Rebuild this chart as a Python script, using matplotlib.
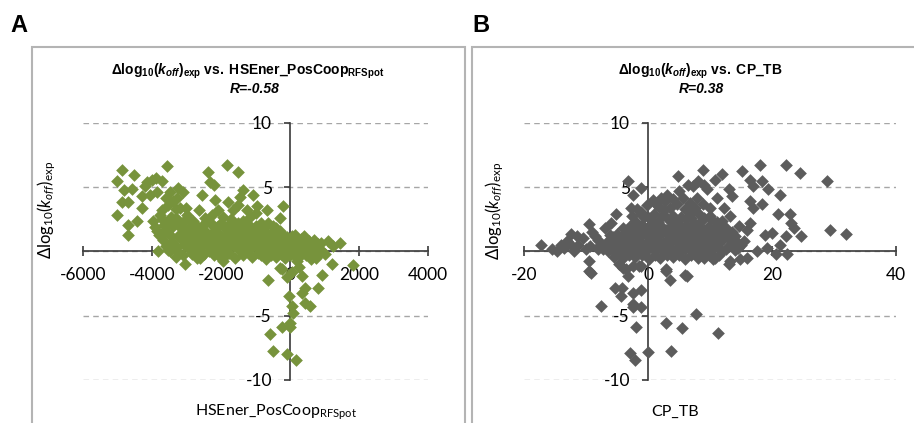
import matplotlib
matplotlib.use("Agg")
import matplotlib.pyplot as plt
from matplotlib.patches import Rectangle
import numpy as np

plt.rcParams['font.family'] = ['Lato', 'DejaVu Sans']
plt.rcParams['axes.unicode_minus'] = False
plt.rcParams['mathtext.fontset'] = 'custom'
plt.rcParams['mathtext.rm'] = 'Lato'
plt.rcParams['mathtext.it'] = 'Lato:italic'
plt.rcParams['mathtext.bf'] = 'Liberation Sans:bold'
plt.rcParams['mathtext.bfit'] = 'Liberation Sans:bold:italic'

W, H = 914, 423

# Panel A: HSEner_PosCoop_RFSpot vs dlog10(koff)
hsener_pts = np.array([
    (-4879, 6.34), (-5005, 5.49), (-4522, 5.95), (-4812, 4.79), (-4590, 4.87),
    (-4879, 3.89), (-4686, 3.89), (-5024, 2.81), (-4686, 2.04), (-4686, 1.26),
    (-4425, 2.35), (-4300, 3.38), (-4155, 5.44), (-3884, 5.70), (-3720, 5.49),
    (-3556, 6.65), (-4058, 4.41), (-3865, 4.66), (-3478, 4.66), (-3237, 4.92),
    (-3527, 3.63), (-3285, 4.15), (-3188, 3.38), (-3768, 2.86), (-3961, 2.35),
    (-2995, 2.86), (-2802, 2.35), (-2367, 6.21), (-2319, 5.44), (-2203, 5.18),
    (-2560, 4.41), (-2174, 4.02), (-1836, 6.73), (-1517, 6.16), (-1372, 4.79),
    (-1449, 4.28), (-1063, 4.41), (-1787, 3.89), (-1643, 3.25), (-1256, 3.25),
    (-966, 3.51), (-676, 3.25), (-193, 3.51), (-290, 2.60), (-628, 2.22),
    (-2271, 2.86), (-2077, 3.25), (1449, 0.67), (1836, -1.08), (-3043, -1.0),
    (-3816, 0.03), (-2609, -0.49), (-1932, -0.75),
    (-4300, 4.3), (-4200, 5.1), (-4000, 5.6), (-3600, 4.2), (-3400, 3.9),
    (-3300, 3.3), (-3100, 4.6), (-3000, 3.4), (-3700, 3.2), (-3450, 2.7),
    (-3250, 2.4), (-2650, 3.2), (-2450, 2.6), (-1950, 2.7), (-1700, 2.5),
    (-1500, 3.6), (-1150, 2.7), (-850, 2.2), (-1000, 3.0), (-1350, 2.4), (-500, 2.0),
    (-628, -2.18), (-241, -1.40), (338, -1.92), (918, -1.79), (1208, -1.01),
    (435, -2.83), (338, -3.22), (821, -2.83), (-19, -3.48), (48, -4.25),
    (435, -4.0), (580, -4.25), (97, -4.77), (0, -5.55), (0, -5.89),
    (-241, -5.89), (-580, -6.41), (-483, -7.76), (-97, -7.96), (174, -8.48),
    (-290, -1.27), (193, -0.75), (600, -0.6), (50, -1.6), (-100, -2.0), (250, -1.2),
    (-3700, 2.5), (-3520, 2.2), (-3310, 2.6), (-3090, 2.3), (-2880, 2.0),
    (-2420, 2.4), (-2010, 2.2), (-1620, 2.0), (-1190, 2.1), (-920, 1.9),
    (-3900, 1.9), (-3610, 1.7), (-3380, 2.0), (-3170, 1.8), (-2950, 1.6),
    (-2690, 1.9), (-2480, 1.7), (-2230, 2.0), (-1880, 1.8), (-1710, 1.6),
    (-1420, 1.8), (-1080, 1.6), (-790, 1.7), (-510, 1.5), (-280, 1.6),
    (-3790, 1.3), (-3560, 1.5), (-3240, 1.2), (-2990, 1.4), (-2760, 1.2),
    (-2540, 1.5), (-2310, 1.3), (-2060, 1.4), (-1840, 1.2), (-1590, 1.5),
    (-1360, 1.3), (-1140, 1.4), (-960, 1.2), (-690, 1.3), (-440, 1.1),
    (-210, 1.3), (60, 1.2),
    (-3680, 0.9), (-3440, 0.7), (-3160, 1.0), (-2890, 0.8), (-2660, 1.0),
    (-2390, 0.7), (-2160, 0.9), (-1940, 0.8), (-1710, 1.0), (-1490, 0.8),
    (-1260, 0.9), (-1010, 0.7), (-810, 1.0), (-590, 0.8), (-360, 0.9),
    (-140, 0.7), (110, 0.9), (310, 1.0), (560, 0.8),
    (-3590, 0.4), (-3290, 0.3), (-3060, 0.5), (-2790, 0.2), (-2560, 0.4),
    (-2290, 0.3), (-2110, 0.5), (-1860, 0.3), (-1610, 0.4), (-1390, 0.2),
    (-1160, 0.5), (-890, 0.3), (-710, 0.4), (-490, 0.5), (-260, 0.3),
    (-40, 0.4), (160, 0.5), (360, 0.3), (610, 0.4), (810, 0.6),
    (-3490, 0.0), (-3210, -0.1), (-2910, 0.1), (-2640, -0.1), (-2360, 0.0),
    (-2040, 0.1), (-1760, -0.1), (-1440, 0.0), (-1210, 0.1), (-940, -0.1),
    (-760, 0.0), (-540, 0.1), (-310, -0.1), (-90, 0.0), (90, 0.1),
    (290, -0.1), (510, 0.0), (690, 0.2), (910, 0.1),
    (-3300, -0.4), (-2700, -0.5), (-2200, -0.3), (-1600, -0.5), (-1100, -0.4),
    (-700, -0.6), (-400, -0.4), (-150, -0.5), (200, -0.4), (450, -0.3),
    (750, -0.5), (1000, -0.2),
    (-600, 0.6), (-400, 0.2), (-200, 0.8), (0, 0.3), (200, 0.2), (400, 0.7),
    (100, -0.2), (-50, 1.0), (700, 0.9), (1100, 0.8), (1250, 0.4),
    (-3650, 2.1), (-3420, 2.4), (-3190, 2.1), (-2960, 2.5), (-2780, 2.2),
    (-2560, 2.0), (-2320, 2.3), (-2110, 1.9), (-1800, 2.1), (-1520, 2.2),
    (-1300, 1.9), (-1000, 2.0), (-700, 2.0), (-400, 1.8),
    (-3860, 1.6), (-3460, 1.2), (-3080, 1.7), (-2850, 1.5), (-2620, 1.6),
    (-2410, 1.1), (-2180, 1.6), (-1960, 1.1), (-1740, 1.3), (-1500, 1.1),
    (-1260, 1.6), (-1040, 1.1), (-860, 1.5), (-600, 1.1), (-340, 1.4),
    (-80, 1.1), (150, 1.3), (400, 1.2),
    (-3530, 0.1), (-3370, 0.6), (-2980, 0.6), (-2720, 0.6), (-2480, 0.8),
    (-2230, 0.6), (-1990, 0.5), (-1780, 0.6), (-1550, 0.7), (-1320, 0.6),
    (-1070, 0.4), (-830, 0.6), (-630, 0.3), (-420, 0.6), (-190, 0.5),
    (40, 0.7), (260, 0.6), (480, 0.5), (700, 0.5), (900, 0.7),
    (-3100, -0.3), (-2830, -0.2), (-2500, -0.2), (-2100, -0.3), (-1850, -0.3),
    (-1350, -0.3), (-850, -0.3), (-550, -0.3), (-250, -0.2), (0, -0.3),
    (350, -0.2), (600, -0.3), (850, -0.2),
])

# Panel B: CP_TB vs dlog10(koff)
cptb_pts = np.array([
    (-17.3, 0.49), (-14.6, 0.03), (-12.5, 1.40), (-9.56, 2.15), (-11.3, 0.54),
    (-10.5, 1.06), (-9.4, 0.41), (-7.8, 0.54), (-9.45, -0.75), (-9.45, -1.53),
    (-5.1, 2.93), (-3.24, 5.52), (-2.43, 4.43), (-1.07, 4.95), (-2.7, 3.40),
    (-6.2, 1.32), (-7.3, 0.16), (-4.6, -1.01), (-3.5, -1.40), (-1.46, -1.14),
    (-1.07, 2.88), (-0.8, 1.97), (4.86, 5.86), (2.98, -1.40), (5.95, -1.79),
    (2.17, 4.18), (1.36, 3.66), (4.05, 4.05), (7.3, 5.08),
    (-13.5, 0.3), (-12.0, 0.0), (-8.5, 1.2), (-8.0, 0.2), (-6.5, 0.6),
    (-13.0, 0.8), (-11.5, 1.2), (-10.0, 0.2), (-9.0, 1.5), (-8.0, 0.9),
    (-7.0, 1.8), (-6.0, 2.2), (-12.5, 0.5), (-15.5, 0.2), (-14.0, 0.5),
    (8.9, 6.38), (11.9, 6.07), (15.1, 6.25), (18.1, 6.72), (22.2, 6.77),
    (24.5, 6.12), (28.8, 5.52), (29.4, 1.71), (32.0, 1.40), (10.8, 5.6),
    (16.5, 5.6), (18.4, 5.47), (17.0, 5.08), (19.3, 4.88), (21.3, 4.43),
    (13.0, 4.9), (9.46, 4.83), (7.84, 4.18), (11.1, 4.18), (13.5, 4.30),
    (16.5, 3.92), (18.4, 3.66), (17.0, 3.40), (20.9, 2.88), (22.9, 2.88),
    (23.0, 2.23), (23.5, 1.84), (24.6, 1.19), (22.2, 1.19), (20.0, 1.45),
    (18.9, 1.32), (16.5, 2.23), (15.9, 1.71), (14.6, 1.97), (14.1, 1.19),
    (13.2, 2.75), (12.2, 3.40), (10.0, 3.40), (8.9, 3.66), (10.0, 2.75),
    (6.9, 3.0), (10.8, -0.49), (13.2, -0.75), (15.9, -0.49), (19.2, 0.29),
    (21.3, 0.54), (22.4, -0.23), (17.6, 0.03), (20.7, -0.23),
    (3.0, 4.4), (5.0, 4.7), (6.5, 5.2), (8.0, 5.5), (9.0, 5.2),
    (-9.2, -1.66), (-4.05, -1.27), (-3.24, -1.92), (-2.43, -1.14), (-1.07, -1.14),
    (-5.4, -2.83), (-4.15, -2.83), (-4.31, -3.48), (-2.43, -3.22), (-1.07, -2.96),
    (-7.55, -4.25), (-2.43, -4.07), (-2.5, -4.3), (-1.07, -4.30), (-1.88, -5.89),
    (2.87, -1.53), (3.52, -2.18), (6.22, -1.92), (2.98, -5.55), (5.41, -5.94),
    (7.68, -4.85), (11.3, -6.38), (-2.97, -7.89), (-2.16, -8.48), (0.0, -7.81),
    (3.79, -7.76), (10.5, -0.55), (13.0, -1.01), (14.9, -0.62),
    (-1.2, 3.1), (1.0, 2.9), (2.6, 3.2), (4.1, 2.8), (6.0, 3.3), (8.2, 2.9),
    (-2.1, 2.4), (0.2, 2.6), (1.6, 2.3), (3.1, 2.6), (4.6, 2.4), (6.1, 2.5),
    (7.4, 2.2), (9.1, 2.6), (11.2, 2.3),
    (-3.1, 1.9), (-1.0, 2.1), (0.6, 1.8), (2.1, 2.0), (3.6, 1.9), (5.1, 2.1),
    (6.4, 1.8), (8.1, 2.0), (9.6, 1.9), (11.1, 2.1), (12.6, 1.8),
    (-5.0, 1.4), (-3.4, 1.6), (-2.0, 1.5), (-0.4, 1.4), (1.1, 1.6), (2.4, 1.5),
    (4.1, 1.4), (5.6, 1.6), (6.9, 1.5), (8.6, 1.4), (10.1, 1.6), (11.6, 1.5), (13.1, 1.3),
    (-6.1, 0.9), (-4.4, 1.1), (-3.0, 1.0), (-1.6, 0.9), (0.1, 1.1), (1.4, 1.0),
    (3.1, 0.9), (4.4, 1.1), (6.1, 1.0), (7.6, 0.9), (9.1, 1.1), (10.4, 0.9),
    (12.1, 1.0), (14.0, 0.9),
    (-7.0, 0.5), (-5.6, 0.4), (-4.1, 0.6), (-2.4, 0.5), (-1.1, 0.4), (0.6, 0.6),
    (2.0, 0.5), (3.4, 0.4), (5.1, 0.6), (6.6, 0.5), (8.0, 0.4), (9.6, 0.6),
    (11.0, 0.5), (13.1, 0.4), (15.0, 0.5),
    (-6.4, 0.0), (-5.0, -0.1), (-3.6, 0.1), (-2.1, 0.0), (-0.6, -0.1), (1.0, 0.1),
    (2.6, 0.0), (4.1, -0.1), (5.4, 0.1), (7.1, 0.0), (8.4, -0.1), (10.1, 0.1),
    (12.0, 0.0), (14.1, 0.1),
    (-4.0, -0.5), (-2.1, -0.4), (0.1, -0.6), (2.0, -0.5), (4.1, -0.4), (6.0, -0.6),
    (8.1, -0.5), (9.9, -0.3),
    (-0.2, 3.6), (0.8, 4.0), (1.8, 3.5), (2.8, 3.9), (3.6, 3.4), (4.6, 3.7),
    (5.6, 4.2), (6.8, 3.8), (7.6, 3.4), (-1.8, 3.3),
    (-2.6, 2.8), (-0.6, 2.7), (0.9, 2.3), (2.3, 2.8), (3.8, 2.3), (5.3, 2.7),
    (6.9, 2.6), (8.6, 2.4), (10.2, 2.5), (12.0, 2.4),
    (-4.0, 1.8), (-2.6, 2.0), (-1.5, 1.7), (0.0, 1.9), (1.5, 2.1), (2.9, 1.7),
    (4.4, 1.8), (5.9, 1.9), (7.4, 1.7), (9.0, 1.7), (10.6, 1.8), (12.1, 1.9),
    (-5.7, 1.1), (-3.8, 1.3), (-2.6, 1.2), (-1.2, 1.2), (0.4, 1.3), (1.8, 1.3),
    (3.5, 1.2), (5.0, 1.3), (6.5, 1.2), (8.0, 1.2), (9.6, 1.3), (11.0, 1.2),
    (12.7, 1.1), (13.6, 1.5),
    (-6.5, 0.8), (-5.0, 0.7), (-3.5, 0.7), (-2.0, 0.8), (-0.4, 0.7), (0.9, 0.8),
    (2.4, 0.7), (3.8, 0.8), (5.5, 0.8), (7.0, 0.7), (8.5, 0.8), (10.0, 0.8),
    (11.5, 0.7), (13.5, 0.7), (15.5, 0.8),
    (-5.8, 0.2), (-4.4, 0.3), (-2.8, 0.2), (-1.5, 0.2), (0.2, 0.3), (1.6, 0.3),
    (3.0, 0.2), (4.6, 0.3), (6.0, 0.2), (7.5, 0.3), (9.0, 0.2), (10.6, 0.3),
    (12.5, 0.2), (14.5, 0.3),
    (-5.5, -0.4), (-3.0, -0.3), (-1.0, -0.3), (1.1, -0.3), (3.0, -0.3),
    (5.0, -0.3), (7.0, -0.3), (9.0, -0.5), (11.5, -0.3),
])

y_ticks = [-10, -5, 0, 5, 10]
a_xticks = [-6000, -4000, -2000, 0, 2000, 4000]
b_xticks = [-20, 0, 20, 40]

ylab = r'$\Delta\mathrm{log}_{10}(k_{off})_{\mathrm{exp}}$'


def fx(px):
    return px / W


def fy(py):
    return 1 - py / H


def draw_panel(fig, rect, pts, xticks, color):
    ax = fig.add_axes(rect)
    ax.scatter(pts[:, 0], pts[:, 1], marker='D', s=42, color=color,
               linewidths=0, clip_on=False, zorder=3)
    ax.set_xlim(xticks[0], xticks[-1])
    ax.set_ylim(-10, 10)
    ax.set_xticks(xticks)
    ax.set_yticks(y_ticks)
    for side in ['top', 'right']:
        ax.spines[side].set_visible(False)
    for side in ['left', 'bottom']:
        ax.spines[side].set_position('zero')
        ax.spines[side].set_color('#3a3a3a')
        ax.spines[side].set_linewidth(1.2)
        ax.spines[side].set_zorder(2)
    ax.tick_params(axis='x', direction='inout', length=7, width=1.2,
                   color='#3a3a3a', pad=8, labelsize=12.5)
    ax.tick_params(axis='y', direction='out', length=4, width=1.2,
                   color='#3a3a3a', pad=9, labelsize=12.5)
    ax.grid(axis='y', color='#a6a6a6', linestyle=(0, (4, 3)), linewidth=1.0)
    ax.set_axisbelow(True)
    ax.patch.set_visible(False)
    return ax


fig = plt.figure(figsize=(W / 100, H / 100), dpi=100)

# panel frames
fig.add_artist(Rectangle((fx(32), -0.1), fx(465 - 32), fy(47) + 0.1,
                         transform=fig.transFigure, fill=False,
                         edgecolor='#b4b4b4', linewidth=1.5))
fig.add_artist(Rectangle((fx(472), -0.1), 0.6, fy(47) + 0.1,
                         transform=fig.transFigure, fill=False,
                         edgecolor='#b4b4b4', linewidth=1.5))

ax_a = draw_panel(fig, [fx(83), fy(380), fx(428 - 83), (380 - 123) / H],
                  hsener_pts, a_xticks, '#77933c')
ax_b = draw_panel(fig, [fx(524), fy(380), fx(896 - 524), (380 - 123) / H],
                  cptb_pts, b_xticks, '#5c5c5c')

# panel letters
fig.text(fx(10), fy(25), 'A', fontsize=17, fontweight='bold',
         family='Liberation Sans', va='center', ha='left')
fig.text(fx(472), fy(25), 'B', fontsize=17, fontweight='bold',
         family='Liberation Sans', va='center', ha='left')

# titles
fig.text(fx(248), fy(71),
         r'$\mathbf{\Delta log_{10}(}\mathbfit{k}_{\mathbfit{off}}\mathbf{)_{exp}\ vs.\ HSEner\_PosCoop_{RFSpot}}$',
         fontsize=10, ha='center', va='center')
fig.text(fx(255), fy(89), 'R=-0.58', fontsize=10, fontweight='bold',
         fontstyle='italic', family='Liberation Sans', ha='center', va='center')
fig.text(fx(700), fy(71),
         r'$\mathbf{\Delta log_{10}(}\mathbfit{k}_{\mathbfit{off}}\mathbf{)_{exp}\ vs.\ CP\_TB}$',
         fontsize=10, ha='center', va='center')
fig.text(fx(701), fy(89), 'R=0.38', fontsize=10, fontweight='bold',
         fontstyle='italic', family='Liberation Sans', ha='center', va='center')

# axis titles
fig.text(fx(47), fy(210), ylab, fontsize=12, rotation=90, ha='center', va='center')
fig.text(fx(495), fy(211), ylab, fontsize=12, rotation=90, ha='center', va='center')
fig.text(fx(276), fy(412), r'HSEner_PosCoop$_{\mathrm{RFSpot}}$', fontsize=11.5,
         ha='center', va='center')
fig.text(fx(675), fy(412), 'CP_TB', fontsize=11.5, ha='center', va='center')

fig.savefig('out.png', dpi=100)
